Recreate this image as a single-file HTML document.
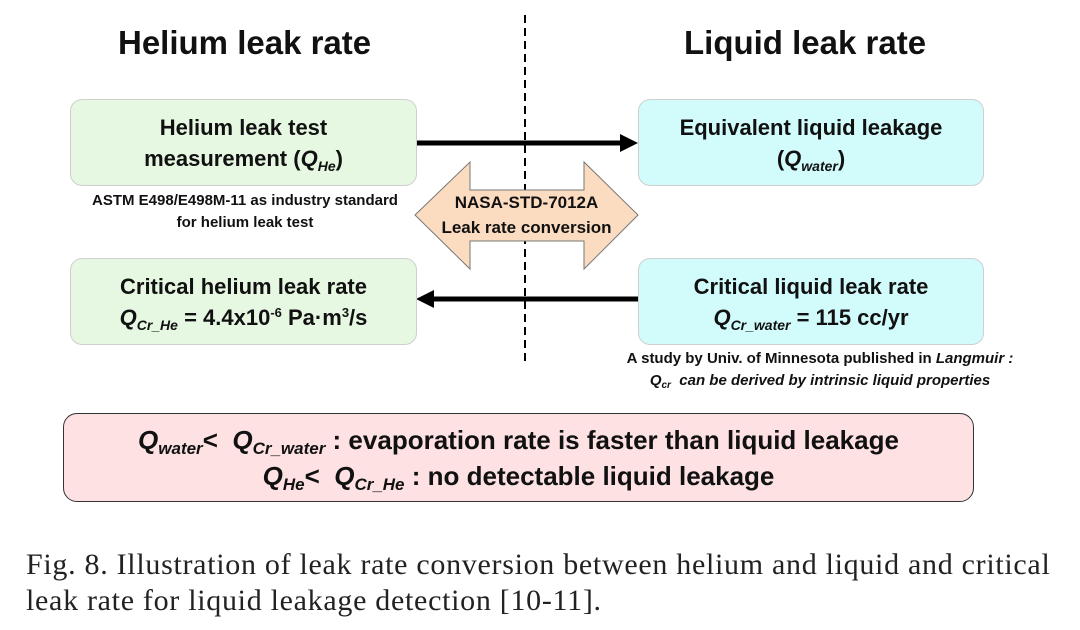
<!DOCTYPE html>
<html><head><meta charset="utf-8"><style>
body{margin:0;width:1080px;height:630px;background:#fff;position:relative;overflow:hidden;font-family:"Liberation Sans",sans-serif}
.a{position:absolute}
.box{position:absolute;border:1px solid #cfcfcf;border-radius:12px;display:flex;flex-direction:column;justify-content:center;align-items:center;font-weight:bold;font-size:22px;line-height:31px;color:#111;text-align:center}
.g{background:#e6f8e2}.c{background:#d2fbfc}
sub{font-size:14px;vertical-align:-5px;line-height:0}
sup{font-size:13px;vertical-align:8px;line-height:0}
.t{font-weight:bold;font-size:33px;color:#111}
.s{font-weight:bold;font-size:15px;line-height:22px;text-align:center;color:#111}
</style></head><body>
<div class="a t" style="left:118px;top:24px">Helium leak rate</div>
<div class="a t" style="left:684px;top:24px">Liquid leak rate</div>
<svg class="a" style="left:0;top:0" width="1080" height="630">
<line x1="525" y1="15" x2="525" y2="366" stroke="#000" stroke-width="2" stroke-dasharray="8,5"/>
<polygon points="415,215 470,162 470,190 584,190 584,162 638,215 584,269 584,241 470,241 470,269" fill="#fcdcc0" stroke="#777" stroke-width="1"/>
<line x1="416" y1="143" x2="622" y2="143" stroke="#000" stroke-width="5"/>
<polygon points="638,143 620,134 620,152" fill="#000"/>
<line x1="638" y1="299" x2="432" y2="299" stroke="#000" stroke-width="5"/>
<polygon points="416,299 434,290 434,308" fill="#000"/>
</svg>
<div class="box g" style="left:70px;top:99px;width:345px;height:85px">Helium leak test<div>measurement (<i>Q<sub>He</sub></i>)</div></div>
<div class="box c" style="left:638px;top:99px;width:344px;height:85px">Equivalent liquid leakage<div>(<i>Q<sub>water</sub></i>)</div></div>
<div class="box g" style="left:70px;top:258px;width:345px;height:85px">Critical helium leak rate<div><i>Q<sub>Cr_He</sub></i> = 4.4x10<sup>-6</sup> Pa·m<sup>3</sup>/s</div></div>
<div class="box c" style="left:638px;top:258px;width:344px;height:85px">Critical liquid leak rate<div><i>Q<sub>Cr_water</sub></i> = 115 cc/yr</div></div>
<div class="a s" style="left:60px;top:190px;width:370px">ASTM E498/E498M-11 as industry standard<br>for helium leak test</div>
<div class="a s" style="left:405px;top:190px;width:243px;font-size:17px;line-height:25px">NASA-STD-7012A<br>Leak rate conversion</div>
<div class="a s" style="left:580px;top:348px;width:480px">A study by Univ. of Minnesota published in <i>Langmuir :</i><br><i>Q<span style="font-size:10px;vertical-align:-3px">cr</span>&nbsp; can be derived by intrinsic liquid properties</i></div>
<div class="box" style="left:63px;top:413px;width:909px;height:87px;background:#fde1e3;border-color:#333;border-radius:14px;font-size:26px;line-height:36px;font-weight:bold">
<div><i>Q<sub style="font-size:17px">water</sub></i>&lt;&nbsp; <i>Q<sub style="font-size:17px">Cr_water</sub></i> : evaporation rate is faster than liquid leakage</div>
<div><i>Q<sub style="font-size:17px">He</sub></i>&lt;&nbsp; <i>Q<sub style="font-size:17px">Cr_He</sub></i> : no detectable liquid leakage</div></div>
<div class="a" style="left:26px;top:547px;font-family:'Liberation Serif',serif;font-size:30px;letter-spacing:0.7px;line-height:36px;color:#222;width:1054px;white-space:nowrap">Fig. 8. Illustration of leak rate conversion between helium and liquid and critical<br>leak rate for liquid leakage detection [10-11].</div>
</body></html>
